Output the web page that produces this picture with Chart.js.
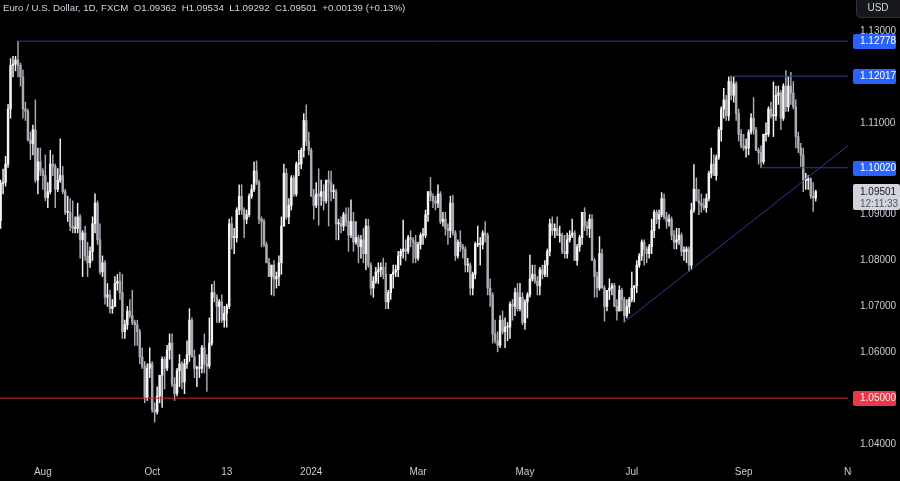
<!DOCTYPE html>
<html><head><meta charset="utf-8">
<script src="https://cdn.jsdelivr.net/npm/chart.js@4"></script>
<style>
html,body{margin:0;padding:0;background:#000;overflow:hidden;}
#wrap{position:relative;width:900px;height:481px;}
</style></head><body>
<div id="wrap"><canvas id="c" width="900" height="481"></canvas></div>
<script>
// ---------- DATA (EUR/USD daily, FXCM, 2023-07-07 .. 2024-10-11) ----------
const firstDate = '2023-07-07';
const holidays = ['2023-12-25', '2024-01-01'];

const opens = [
// Jul 23
1.0887,1.0968,1.0970,1.1010,1.1130,1.1225,1.1228,1.1237,1.1225,1.1200,1.1130,1.1125,1.1063,1.1055,1.1085,1.0975,1.1015,
// Aug 23
1.0995,1.0985,1.0937,1.0950,1.1010,1.1005,1.0955,1.0975,1.0985,1.0950,1.0905,1.0905,1.0875,1.0870,1.0870,1.0895,1.0845,1.0860,1.0810,1.0795,1.0820,1.0880,1.0925,
// Sep 23
1.0845,1.0775,1.0795,1.0720,1.0725,1.0695,1.0700,1.0750,1.0755,1.0730,1.0645,1.0660,1.0690,1.0680,1.0665,1.0660,1.0645,1.0590,1.0570,1.0500,1.0565,
// Oct 23
1.0575,1.0475,1.0470,1.0505,1.0550,1.0585,1.0565,1.0605,1.0620,1.0530,1.0510,1.0560,1.0575,1.0535,1.0575,1.0595,1.0670,1.0590,1.0565,1.0565,1.0565,1.0610,
// Nov 23
1.0575,1.0570,1.0620,1.0730,1.0720,1.0700,1.0710,1.0670,1.0685,1.0700,1.0880,1.0850,1.0850,1.0910,1.0940,1.0910,1.0890,1.0900,1.0940,1.0955,1.0995,1.0970,
// Dec 23
1.0890,1.0885,1.0835,1.0795,1.0765,1.0790,1.0760,1.0765,1.0795,1.0875,1.0990,1.0895,1.0920,1.0980,1.0945,1.1010,1.1010,1.1040,1.1105,1.1060,
// Jan 24
1.1040,1.0940,1.0920,1.0945,1.0940,1.0950,1.0930,1.0975,1.0970,1.0950,1.0950,1.0880,1.0880,1.0875,1.0900,1.0885,1.0855,1.0885,1.0840,1.0850,1.0830,1.0845,
// Feb 24
1.0815,1.0875,1.0790,1.0740,1.0755,1.0775,1.0780,1.0785,1.0770,1.0710,1.0730,1.0770,1.0775,1.0780,1.0810,1.0820,1.0825,1.0820,1.0850,1.0845,1.0840,
// Mar 24
1.0805,1.0835,1.0855,1.0855,1.0900,1.0950,1.0940,1.0930,1.0925,1.0945,1.0885,1.0890,1.0870,1.0865,1.0925,1.0860,1.0810,1.0840,1.0830,1.0825,1.0790,
// Apr 24
1.0790,1.0740,1.0770,1.0835,1.0835,1.0835,1.0860,1.0855,1.0740,1.0725,1.0640,1.0625,1.0615,1.0670,1.0645,1.0655,1.0655,1.0705,1.0700,1.0730,1.0695,1.0720,
// May 24
1.0665,1.0710,1.0725,1.0760,1.0770,1.0755,1.0745,1.0780,1.0770,1.0790,1.0820,1.0880,1.0865,1.0870,1.0855,1.0855,1.0820,1.0815,1.0845,1.0855,1.0860,1.0800,1.0830,
// Jun 24
1.0850,1.0905,1.0875,1.0870,1.0890,1.0800,1.0765,1.0740,1.0815,1.0740,1.0700,1.0735,1.0740,1.0745,1.0700,1.0690,1.0735,1.0715,1.0680,1.0700,
// Jul 24
1.0715,1.0740,1.0745,1.0790,1.0810,1.0840,1.0825,1.0815,1.0830,1.0865,1.0905,1.0890,1.0900,1.0935,1.0895,1.0885,1.0890,1.0855,1.0840,1.0845,1.0855,1.0820,1.0820,
// Aug 24
1.0825,1.0790,1.0910,1.0955,1.0930,1.0925,1.0920,1.0915,1.0935,1.0990,1.1010,1.0985,1.1025,1.1085,1.1130,1.1150,1.1115,1.1190,1.1160,1.1185,1.1120,1.1075,
// Sep 24
1.1050,1.1045,1.1045,1.1080,1.1110,1.1085,1.1040,1.1035,1.1015,1.1075,1.1075,1.1130,1.1115,1.1115,1.1160,1.1165,1.1110,1.1180,1.1135,1.1180,1.1165,
// Oct 24
1.1135,1.1070,1.1045,1.1030,1.0975,1.0975,1.0978,1.0940,1.09362
];

const highs = [
1.0975,1.0999,1.1027,1.1140,1.1240,1.1245,1.1245,1.1278,1.1230,1.1215,1.1145,1.1130,1.1080,1.1095,1.1150,1.1045,1.1045,
1.1000,1.1030,1.0970,1.1040,1.1030,1.1010,1.1000,1.1065,1.1005,1.0955,1.0940,1.0935,1.0930,1.0895,1.0925,1.0900,1.0865,1.0875,1.0840,1.0830,1.0895,1.0945,1.0930,
1.0880,1.0810,1.0800,1.0750,1.0735,1.0715,1.0765,1.0770,1.0775,1.0770,1.0670,1.0700,1.0715,1.0735,1.0670,1.0670,1.0650,1.0610,1.0580,1.0575,1.0610,
1.0580,1.0490,1.0525,1.0550,1.0590,1.0590,1.0615,1.0640,1.0640,1.0545,1.0565,1.0595,1.0580,1.0585,1.0625,1.0695,1.0675,1.0605,1.0570,1.0595,1.0615,1.0640,
1.0595,1.0675,1.0748,1.0755,1.0725,1.0715,1.0725,1.0700,1.0705,1.0890,1.0895,1.0870,1.0915,1.0965,1.0965,1.0915,1.0910,1.0945,1.0965,1.1015,1.1017,1.0975,
1.0895,1.0890,1.0840,1.0805,1.0790,1.0800,1.0775,1.0810,1.0895,1.1010,1.1000,1.0935,1.0985,1.0985,1.1015,1.1040,1.1045,1.1120,1.1139,1.1080,
1.1045,1.0955,1.0970,1.1000,1.0975,1.0965,1.0975,1.0995,1.0995,1.0965,1.0955,1.0890,1.0895,1.0905,1.0915,1.0915,1.0932,1.0905,1.0885,1.0855,1.0855,1.0870,
1.0890,1.0890,1.0795,1.0765,1.0785,1.0795,1.0795,1.0805,1.0795,1.0735,1.0770,1.0790,1.0790,1.0820,1.0825,1.0888,1.0845,1.0855,1.0865,1.0850,1.0855,
1.0840,1.0860,1.0870,1.0910,1.0950,1.0981,1.0945,1.0940,1.0965,1.0950,1.0905,1.0905,1.0880,1.0940,1.0942,1.0865,1.0845,1.0865,1.0835,1.0830,1.0805,
1.0795,1.0775,1.0840,1.0875,1.0850,1.0865,1.0885,1.0860,1.0760,1.0730,1.0670,1.0645,1.0680,1.0690,1.0675,1.0665,1.0710,1.0715,1.0740,1.0750,1.0750,1.0730,
1.0715,1.0730,1.0812,1.0790,1.0790,1.0765,1.0785,1.0790,1.0800,1.0825,1.0890,1.0895,1.0880,1.0895,1.0875,1.0860,1.0855,1.0860,1.0865,1.0890,1.0865,1.0835,1.0855,
1.0905,1.0915,1.0885,1.0900,1.0900,1.0805,1.0775,1.0852,1.0825,1.0745,1.0735,1.0760,1.0750,1.0750,1.0715,1.0745,1.0740,1.0720,1.0715,1.0720,
1.0775,1.0745,1.0800,1.0815,1.0845,1.0845,1.0830,1.0835,1.0890,1.0910,1.0910,1.0910,1.0948,1.0945,1.0905,1.0900,1.0895,1.0865,1.0870,1.0870,1.0860,1.0830,1.0830,
1.0830,1.0925,1.1009,1.0980,1.0955,1.0945,1.0935,1.0945,1.0995,1.1045,1.1030,1.1030,1.1090,1.1135,1.1175,1.1160,1.1200,1.1202,1.1200,1.1190,1.1130,1.1085,
1.1075,1.1065,1.1085,1.1120,1.1155,1.1090,1.1045,1.1050,1.1075,1.1100,1.1135,1.1145,1.1189,1.1180,1.1180,1.1170,1.1185,1.1214,1.1200,1.1210,1.1190,
1.1150,1.1080,1.1055,1.1045,1.0990,1.0985,1.0980,1.0970,1.09534
];

const lows = [
1.0870,1.0945,1.0962,1.1003,1.1110,1.1200,1.1213,1.1200,1.1180,1.1110,1.1105,1.1060,1.1020,1.1030,1.0970,1.0945,1.0985,
1.0955,1.0930,1.0915,1.0945,1.0985,1.0915,1.0950,1.0970,1.0945,1.0900,1.0885,1.0865,1.0860,1.0860,1.0860,1.0805,1.0765,1.0800,1.0765,1.0785,1.0800,1.0860,1.0835,
1.0770,1.0765,1.0705,1.0700,1.0685,1.0685,1.0700,1.0735,1.0715,1.0630,1.0630,1.0650,1.0675,1.0660,1.0615,1.0615,1.0575,1.0565,1.0490,1.0495,1.0545,
1.0469,1.0448,1.0465,1.0490,1.0480,1.0520,1.0560,1.0585,1.0525,1.0495,1.0505,1.0525,1.0520,1.0510,1.0565,1.0580,1.0590,1.0545,1.0525,1.0545,1.0555,1.0555,
1.0515,1.0565,1.0615,1.0710,1.0665,1.0665,1.0665,1.0655,1.0655,1.0695,1.0825,1.0815,1.0840,1.0900,1.0900,1.0850,1.0880,1.0895,1.0935,1.0950,1.0965,1.0880,
1.0830,1.0830,1.0795,1.0765,1.0725,1.0723,1.0740,1.0745,1.0770,1.0875,1.0890,1.0880,1.0910,1.0940,1.0940,1.0985,1.1000,1.1025,1.1050,1.1030,
1.0940,1.0890,1.0915,1.0877,1.0920,1.0910,1.0925,1.0875,1.0930,1.0935,1.0845,1.0845,1.0860,1.0865,1.0875,1.0820,1.0850,1.0820,1.0835,1.0795,1.0805,1.0795,
1.0780,1.0785,1.0725,1.0720,1.0750,1.0750,1.0765,1.0760,1.0695,1.0695,1.0715,1.0740,1.0765,1.0765,1.0790,1.0805,1.0800,1.0815,1.0830,1.0795,1.0795,
1.0800,1.0825,1.0835,1.0850,1.0885,1.0930,1.0915,1.0910,1.0915,1.0880,1.0875,1.0855,1.0835,1.0850,1.0855,1.0800,1.0805,1.0820,1.0805,1.0775,1.0775,
1.0725,1.0725,1.0760,1.0830,1.0790,1.0825,1.0840,1.0725,1.0700,1.0620,1.0620,1.0601,1.0610,1.0640,1.0610,1.0625,1.0630,1.0670,1.0680,1.0690,1.0690,1.0660,
1.0650,1.0675,1.0720,1.0755,1.0750,1.0725,1.0725,1.0760,1.0765,1.0765,1.0810,1.0855,1.0850,1.0855,1.0840,1.0815,1.0805,1.0805,1.0840,1.0850,1.0800,1.0790,1.0820,
1.0835,1.0865,1.0855,1.0850,1.0800,1.0720,1.0720,1.0735,1.0740,1.0668,1.0690,1.0715,1.0725,1.0700,1.0670,1.0690,1.0690,1.0666,1.0675,1.0685,
1.0710,1.0710,1.0730,1.0785,1.0800,1.0790,1.0795,1.0805,1.0815,1.0850,1.0880,1.0870,1.0895,1.0890,1.0870,1.0875,1.0845,1.0825,1.0825,1.0835,1.0810,1.0800,1.0795,
1.0777,1.0780,1.0905,1.0930,1.0900,1.0905,1.0910,1.0905,1.0930,1.0980,1.0985,1.0975,1.1020,1.1060,1.1110,1.1105,1.1105,1.1150,1.1145,1.1105,1.1060,1.1045,
1.1040,1.1025,1.1030,1.1075,1.1075,1.1040,1.1010,1.1002,1.1010,1.1060,1.1070,1.1110,1.1070,1.1105,1.1140,1.1085,1.1105,1.1125,1.1125,1.1140,1.1130,
1.1045,1.1035,1.1005,1.0950,1.0955,1.0955,1.0935,1.0907,1.09292
];

const closes = [
1.0968,1.0970,1.1010,1.1130,1.1225,1.1228,1.1237,1.1225,1.1200,1.1130,1.1125,1.1063,1.1055,1.1085,1.0975,1.1015,1.0995,
1.0985,1.0937,1.0950,1.1010,1.1005,1.0955,1.0975,1.0985,1.0950,1.0905,1.0905,1.0875,1.0870,1.0870,1.0895,1.0845,1.0860,1.0810,1.0795,1.0820,1.0880,1.0925,1.0845,
1.0775,1.0795,1.0720,1.0725,1.0695,1.0700,1.0750,1.0755,1.0730,1.0645,1.0660,1.0690,1.0680,1.0665,1.0660,1.0645,1.0590,1.0570,1.0500,1.0565,1.0575,
1.0475,1.0470,1.0505,1.0550,1.0585,1.0565,1.0605,1.0620,1.0530,1.0510,1.0560,1.0575,1.0535,1.0575,1.0595,1.0670,1.0590,1.0565,1.0565,1.0565,1.0610,1.0575,
1.0570,1.0620,1.0730,1.0720,1.0700,1.0710,1.0670,1.0685,1.0700,1.0880,1.0850,1.0850,1.0910,1.0940,1.0910,1.0890,1.0900,1.0940,1.0955,1.0995,1.0970,1.0890,
1.0885,1.0835,1.0795,1.0765,1.0790,1.0760,1.0765,1.0795,1.0875,1.0990,1.0895,1.0920,1.0980,1.0945,1.1010,1.1010,1.1040,1.1105,1.1060,1.1040,
1.0940,1.0920,1.0945,1.0940,1.0950,1.0930,1.0975,1.0970,1.0950,1.0950,1.0880,1.0880,1.0875,1.0900,1.0885,1.0855,1.0885,1.0840,1.0850,1.0830,1.0845,1.0815,
1.0875,1.0790,1.0740,1.0755,1.0775,1.0780,1.0785,1.0770,1.0710,1.0730,1.0770,1.0775,1.0780,1.0810,1.0820,1.0825,1.0820,1.0850,1.0845,1.0840,1.0805,
1.0835,1.0855,1.0855,1.0900,1.0950,1.0940,1.0930,1.0925,1.0945,1.0885,1.0890,1.0870,1.0865,1.0925,1.0860,1.0810,1.0840,1.0830,1.0825,1.0790,1.0790,
1.0740,1.0770,1.0835,1.0835,1.0835,1.0860,1.0855,1.0740,1.0725,1.0640,1.0625,1.0615,1.0670,1.0645,1.0655,1.0655,1.0705,1.0700,1.0730,1.0695,1.0720,1.0665,
1.0710,1.0725,1.0760,1.0770,1.0755,1.0745,1.0780,1.0770,1.0790,1.0820,1.0880,1.0865,1.0870,1.0855,1.0855,1.0820,1.0815,1.0845,1.0855,1.0860,1.0800,1.0830,1.0850,
1.0905,1.0875,1.0870,1.0890,1.0800,1.0765,1.0740,1.0815,1.0740,1.0700,1.0735,1.0740,1.0745,1.0700,1.0690,1.0735,1.0715,1.0680,1.0700,1.0715,
1.0740,1.0745,1.0790,1.0810,1.0840,1.0825,1.0815,1.0830,1.0865,1.0905,1.0890,1.0900,1.0935,1.0895,1.0885,1.0890,1.0855,1.0840,1.0845,1.0855,1.0820,1.0820,1.0825,
1.0790,1.0910,1.0955,1.0930,1.0925,1.0920,1.0915,1.0935,1.0990,1.1010,1.0985,1.1025,1.1085,1.1130,1.1150,1.1115,1.1190,1.1160,1.1185,1.1120,1.1075,1.1050,
1.1045,1.1045,1.1080,1.1110,1.1085,1.1040,1.1035,1.1015,1.1075,1.1075,1.1130,1.1115,1.1115,1.1160,1.1165,1.1110,1.1180,1.1135,1.1180,1.1165,1.1135,
1.1070,1.1045,1.1030,1.0975,1.0975,1.0978,1.0940,1.09362,1.09501
];

// axis / annotation values
const timeTickDates  = ['2023-08-01','2023-10-02','2023-11-13','2024-01-02','2024-03-01','2024-05-01','2024-07-01','2024-09-02','2024-11-01'];
const timeTickLabels = ['Aug','Oct','13','2024','Mar','May','Jul','Sep','Nov'];
const priceTicks = [1.04,1.05,1.06,1.07,1.08,1.09,1.10,1.11,1.12,1.13];
const resistancePrices = [1.12778, 1.12017, 1.10020];
const resistanceFrom   = ['2023-07-18','2024-08-26','2024-09-11'];
const supportPrice = 1.05;
const trendDates  = ['2024-06-26','2024-08-01'];
const trendPrices = [1.0666, 1.0777];
const lastPrice = 1.09501;
const countdown = '12:11:33';
const titleText = 'Euro / U.S. Dollar, 1D, FXCM  O1.09362  H1.09534  L1.09292  C1.09501  +0.00139 (+0.13%)';
const currency = 'USD';

// ---------- build ----------
const dates = [];
(function(){
  const d = new Date(Date.UTC(2023,6,7));
  const end = Date.UTC(2024,10,29);
  while (d.getTime() <= end) {
    const wd = d.getUTCDay(); const s = d.toISOString().slice(0,10);
    if (wd !== 0 && wd !== 6 && !holidays.includes(s)) dates.push(s);
    d.setUTCDate(d.getUTCDate()+1);
  }
})();
const idx = s => dates.indexOf(s);

const X_MIN = -0.24, X_MAX = 341;
const Y_MIN = 1.03654, Y_MAX = 1.13675;
const FONT = '"Liberation Sans", Arial, sans-serif';
const upColor = '#f4f4f4', downColor = '#a9acb4';
const candleColors = closes.map((c,i) => c >= opens[i] ? upColor : downColor);
const bodies = closes.map((c,i) => ({x:i, y:[opens[i], c]}));
const wicks  = closes.map((c,i) => ({x:i, y:[lows[i], highs[i]]}));

const lineColor = '#2f3d92';
const lineDs = (pts, color) => ({type:'line', data:pts, borderColor:color, borderWidth:1, pointRadius:0, pointHoverRadius:0, fill:false, tension:0, order:0});
const datasets = [];
resistancePrices.forEach((p,k) => datasets.push(lineDs([{x:idx(resistanceFrom[k]), y:p},{x:X_MAX+10, y:p}], lineColor)));
datasets.push(lineDs([{x:X_MIN-10, y:supportPrice},{x:X_MAX+10, y:supportPrice}], '#c4303d'));
const t0 = idx(trendDates[0]), t1 = idx(trendDates[1]);
const slope = (trendPrices[1]-trendPrices[0])/(t1-t0);
datasets.push(lineDs([{x:t0, y:trendPrices[0]},{x:X_MAX+10, y:trendPrices[0]+slope*(X_MAX+10-t0)}], lineColor));
datasets.push({type:'bar', data:bodies, backgroundColor:candleColors, borderWidth:0, barThickness:1.8, minBarLength:1, grouped:false, order:1});
datasets.push({type:'bar', data:wicks, backgroundColor:candleColors, borderWidth:0, barThickness:0.8, grouped:false, order:2});

const overlay = {
  id:'overlay',
  afterDraw(chart){
    const ctx = chart.ctx, ys = chart.scales.y, ca = chart.chartArea, W = chart.width;
    ctx.save();
    // hide part of the out-of-range time label under the price scale
    ctx.fillStyle = '#000';
    ctx.fillRect(852, ca.bottom+1, W-852, chart.height-ca.bottom);
    // title
    ctx.font = '9.7px ' + FONT; ctx.textBaseline = 'middle'; ctx.textAlign = 'left';
    ctx.fillStyle = '#d1d4dc';
    ctx.fillText(titleText, 3, 8);
    // currency button
    ctx.font = '10px ' + FONT;
    ctx.fillStyle = '#15171c'; ctx.strokeStyle = '#30333b'; ctx.lineWidth = 1;
    ctx.beginPath(); ctx.roundRect(856.5, -4.5, 50, 22, 4); ctx.fill(); ctx.stroke();
    ctx.fillStyle = '#d1d4dc'; ctx.textAlign = 'center';
    ctx.fillText(currency, 878, 8);
    // price tags
    const tx = ys.left + 12;
    ctx.textAlign = 'left';
    const tag = (price, bg, fg) => {
      const py = Math.round(ys.getPixelForValue(price));
      ctx.fillStyle = bg; ctx.beginPath(); ctx.roundRect(853, py-7, 43, 15, 2); ctx.fill();
      ctx.fillStyle = fg; ctx.fillText(price.toFixed(5), tx, py+0.5);
    };
    resistancePrices.forEach(p => tag(p, '#2962ff', '#ffffff'));
    tag(supportPrice, '#e8394a', '#ffe6e8');
    // last price tag
    const ly = Math.round(ys.getPixelForValue(lastPrice));
    ctx.fillStyle = '#d1d4dc'; ctx.beginPath(); ctx.roundRect(853, ly-8, 47, 26, 2); ctx.fill();
    ctx.fillStyle = '#131722'; ctx.fillText(lastPrice.toFixed(5), tx, ly);
    ctx.fillStyle = '#50535e'; ctx.fillText(countdown, tx, ly+12);
    ctx.restore();
  }
};

new Chart(document.getElementById('c'), {
  type:'bar',
  data:{datasets},
  options:{
    responsive:false, animation:false, devicePixelRatio:1,
    layout:{padding:0, autoPadding:false},
    plugins:{legend:{display:false}, tooltip:{enabled:false}},
    scales:{
      x:{
        type:'linear', min:X_MIN, max:X_MAX, offset:false,
        grid:{display:false, drawTicks:false}, border:{display:false},
        afterBuildTicks(s){ s.ticks = timeTickDates.map(d => ({value: idx(d)})); },
        afterFit(s){ s.height = 21; s.paddingLeft = 0; s.paddingRight = 0; },
        ticks:{autoSkip:false, maxRotation:0, padding:6, color:'#c8cbd3', font:{size:10, family:FONT},
          callback(v){ const k = timeTickDates.findIndex(d => idx(d) === v); return k >= 0 ? timeTickLabels[k] : ''; }}
      },
      y:{
        type:'linear', position:'right', min:Y_MIN, max:Y_MAX,
        grid:{display:false, drawTicks:false}, border:{display:false},
        afterBuildTicks(s){ s.ticks = priceTicks.map(v => ({value:v})); },
        afterFit(s){ s.width = 52; s.paddingTop = 0; s.paddingBottom = 0; },
        ticks:{padding:12, color:'#c8cbd3', font:{size:10, family:FONT}, callback:v => Number(v).toFixed(5)}
      }
    }
  },
  plugins:[overlay]
});
</script>
</body></html>
